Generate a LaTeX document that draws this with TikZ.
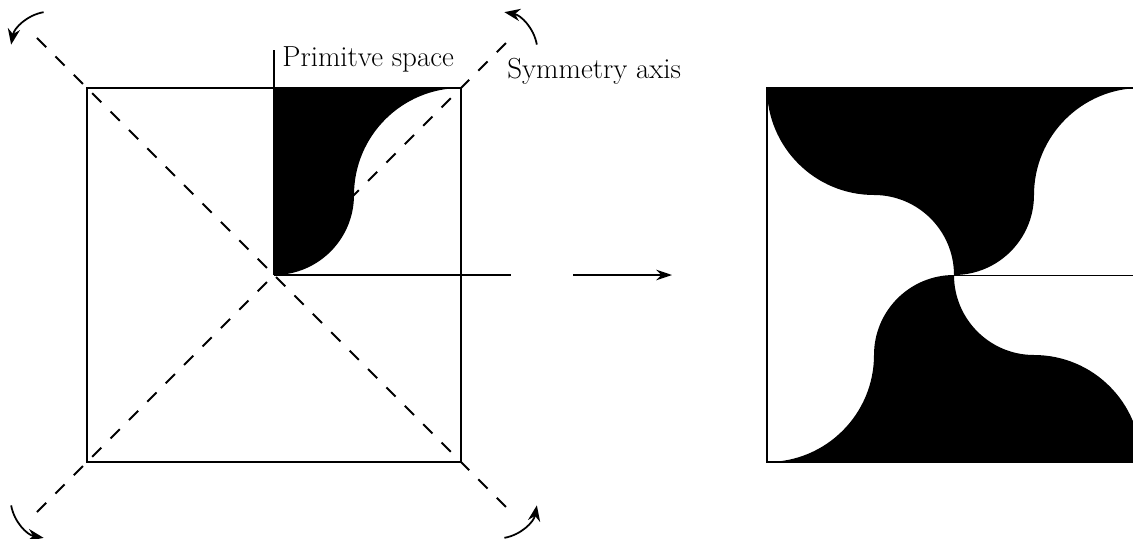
\documentclass[tikz,border=0pt]{standalone}
\usetikzlibrary{arrows.meta, calc}

\newcommand{\arcin}{1.6}
\newcommand{\arcout}{2.14}
\newcommand{\halfside}{3.74}

\begin{document}
\begin{tikzpicture}[
  symaxis/.style={line width=1.1pt, dash pattern=on 7.4pt off 7.4pt},
  rotarrow/.style={line width=1pt, -{Stealth[length=9pt, width=7pt]}},
  halfline/.style={line width=1.1pt},
  captxt/.style={anchor=base west, inner sep=0pt, font=\fontsize{16.5}{19}\selectfont}
]
  \useasboundingbox (-5.48,-5.26) rectangle (17.18,5.5);

  % centres of the two squares
  \coordinate (L) at (0,0);
  \coordinate (R) at (13.6,0);

  % primitive space (one quarter)
  \fill (L) arc[start angle=-90, end angle=0, radius=\arcin]
            arc[start angle=180, end angle=90, radius=\arcout]
            -- (0,\halfside) -- cycle;

  % the two symmetry axes
  \coordinate (nw) at (-4.74,4.74);
  \coordinate (ne) at (4.74,4.74);
  \coordinate (sw) at (-4.74,-4.74);
  \coordinate (se) at (4.74,-4.74);
  \draw[symaxis] (nw) -- (se);
  \draw[symaxis] (sw) -- (ne);

  % the square
  \draw[line width=1.6pt] (-\halfside,-\halfside) rectangle (\halfside,\halfside);

  % edges of the primitive space
  \coordinate (top) at (0,4.5);
  \coordinate (east) at (4.74,0);
  \draw[halfline] (L) -- (top);
  \draw[halfline] (L) -- (east);

  % rotation arrows at the ends of the axes
  \foreach \a in {45,135,225,315}
    \draw[rotarrow] (\a:6.32) ++(\a-35:0.8)
      arc[start angle=\a-35, end angle=\a+35, radius=0.8];

  \node[captxt] (prim) at (0.16,4.18) {Primitve space};
  \node[captxt] (sym) at (4.66,3.94) {Symmetry axis};

  % from the primitive space to the tiling
  \coordinate (from) at (5.98,0);
  \coordinate (to) at (7.96,0);
  \draw[line width=1pt, -{Stealth[length=9pt, width=6pt]}] (from) -- (to);

  % resulting square
  \begin{scope}[shift={(R)}]
    \foreach \r in {0,180}
      \fill[rotate=\r] (0,0) arc[start angle=-90, end angle=0, radius=\arcin]
            arc[start angle=180, end angle=90, radius=\arcout]
            -- (-\halfside,\halfside)
            arc[start angle=180, end angle=270, radius=\arcout]
            arc[start angle=90, end angle=0, radius=\arcin] -- cycle;
    \draw[line width=1.2pt] (-\halfside,-\halfside) rectangle (\halfside,\halfside);
    \coordinate (rc) at (0,0);
    \coordinate (redge) at (\halfside,0);
    \draw[line width=0.5pt] (rc) -- (redge);
  \end{scope}
\end{tikzpicture}
\end{document}
